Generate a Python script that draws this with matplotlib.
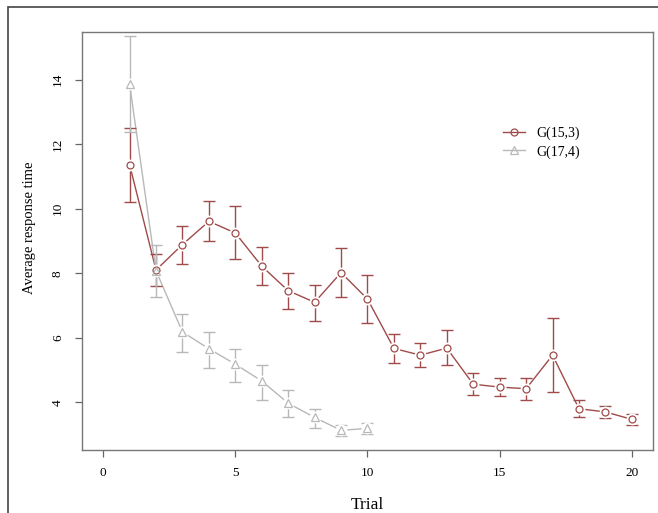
import numpy as np
import matplotlib
matplotlib.use('Agg')
import matplotlib.pyplot as plt
from matplotlib.patches import Rectangle

plt.rcParams['font.family'] = ['Liberation Serif', 'DejaVu Serif']

trials_a = np.arange(1, 21)
mean_a = [11.37, 8.10, 8.89, 9.61, 9.25, 8.22, 7.46, 7.10, 8.02, 7.20,
          5.67, 5.46, 5.68, 4.56, 4.47, 4.42, 5.46, 3.80, 3.70, 3.47]
upper_a = [12.50, 8.60, 9.46, 10.25, 10.08, 8.81, 8.01, 7.65, 8.77, 7.94,
           6.11, 5.83, 6.23, 4.91, 4.75, 4.75, 6.60, 4.07, 3.89, 3.65]
lower_a = [10.22, 7.60, 8.30, 8.99, 8.45, 7.63, 6.90, 6.52, 7.27, 6.45,
           5.23, 5.08, 5.15, 4.21, 4.18, 4.08, 4.32, 3.55, 3.51, 3.30]

trials_b = np.arange(1, 11)
mean_b = [13.87, 8.08, 6.18, 5.66, 5.18, 4.66, 3.97, 3.53, 3.13, 3.19]
upper_b = [15.37, 8.89, 6.73, 6.19, 5.66, 5.17, 4.37, 3.80, 3.29, 3.36]
lower_b = [12.37, 7.27, 5.57, 5.07, 4.64, 4.08, 3.54, 3.20, 2.94, 3.01]

labels = ['G(15,3)', 'G(17,4)']
red = '#a04a4a'
grey = '#b8b8b8'

fig = plt.figure(figsize=(6.58, 5.13), dpi=100)
ax = fig.add_axes([0.1246, 0.1228, 0.8678, 0.8148])


def draw(x, m, lo, hi, color, marker, size, label):
	m = np.array(m)
	err = [m - np.array(lo), np.array(hi) - m]
	ax.plot(x, m, '-', color=color, lw=1.0, zorder=2)
	ax.errorbar(x, m, yerr=err, fmt='none', ecolor=color, elinewidth=1.0,
	            capsize=4.5, capthick=1.0, zorder=3)
	# white blobs to get the R type="b" gaps
	ax.plot(x, m, 'o', ms=8.5, mfc='white', mec='none', zorder=4)
	ax.plot(x, m, marker, ms=size, mfc='none', mec=color, mew=0.9,
	        ls='none', zorder=5)
	return ax.plot([], [], '-', marker=marker, color=color, lw=1.0, ms=size,
	               mfc='none', mew=0.9, label=label)


draw(trials_a, mean_a, lower_a, upper_a, red, 'o', 5, labels[0])
draw(trials_b, mean_b, lower_b, upper_b, grey, '^', 6, labels[1])

ax.set_xlim(-0.8, 20.8)
ax.set_ylim(2.52, 15.48)
ax.set_xticks([0, 5, 10, 15, 20])
ax.set_yticks([4, 6, 8, 10, 12, 14])

for s in ax.spines.values():
	s.set_color('#777777')
	s.set_linewidth(1.0)
ax.tick_params(direction='out', length=5, width=0.9, color='#666666',
               labelsize=9.5)
ax.tick_params(axis='x', pad=7)
ax.tick_params(axis='y', pad=8)
for tl in ax.get_yticklabels():
	tl.set_rotation(90)
	tl.set_va('center')

ax.set_xlabel('Trial', fontsize=12.5, labelpad=13)
ax.set_ylabel('Average response time', fontsize=10.5)
ax.yaxis.set_label_coords(-0.081, 0.532)

ax.legend(loc='center left', bbox_to_anchor=(0.764, 0.722),
          bbox_transform=fig.transFigure, frameon=False, fontsize=10,
          handlelength=1.6, handletextpad=0.85, labelspacing=0.35,
          borderpad=0, borderaxespad=0)

# outer frame of the original figure (only top/left edges are visible)
fig.patches.append(Rectangle((8 / 658, -0.1), 1.2, 1 - 7 / 513 + 0.1,
                             transform=fig.transFigure, fill=False,
                             edgecolor='#444444', lw=1.2))

fig.savefig('out.png', dpi=100)
